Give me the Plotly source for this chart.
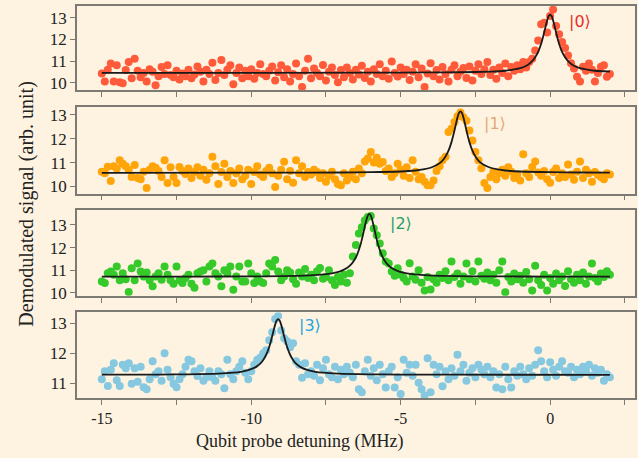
import numpy as np
import plotly.graph_objects as go
from plotly.subplots import make_subplots

# Qubit probe detuning grid (MHz)
detuning = np.round(np.arange(-15.0, 2.0001, 0.1), 1)

# Demodulated signal, state |0>
sig0 = [
    10.42, 10.05, 10.60, 10.88, 10.05, 10.80, 10.02, 9.97, 10.58, 10.95,
    10.20, 11.10, 10.55, 10.25, 10.45, 10.05, 10.62, 10.50, 9.88, 10.30,
    10.72, 10.40, 10.80, 10.35, 10.25, 10.55, 10.15, 10.42, 10.30, 10.60,
    10.20, 10.38, 10.75, 10.50, 10.05, 10.60, 10.40, 10.92, 10.12, 10.45,
    11.05, 10.35, 10.60, 10.80, 9.92, 10.45, 10.70, 10.20, 10.55, 10.30,
    10.62, 10.18, 10.45, 10.85, 10.40, 10.30, 10.55, 10.75, 10.10, 10.48,
    10.80, 10.25, 10.62, 10.05, 10.40, 10.88, 10.30, 9.80, 10.55, 11.10,
    10.20, 10.65, 10.45, 10.30, 10.82, 10.10, 10.50, 10.70, 10.35, 10.02,
    10.58, 10.25, 10.70, 10.45, 10.15, 10.60, 10.38, 10.78, 10.22, 10.50,
    10.05, 10.62, 10.40, 10.85, 10.30, 10.55, 10.18, 10.98, 10.45, 10.28,
    10.70, 10.40, 10.60, 10.12, 10.50, 10.85, 10.25, 10.65, 9.80, 10.42,
    10.90, 10.30, 10.58, 10.15, 10.72, 10.40, 10.05, 10.60, 10.80, 10.30,
    10.50, 10.68, 10.22, 10.75, 10.10, 10.55, 10.85, 10.40, 10.62, 10.95,
    10.35, 10.60, 10.18, 10.70, 10.45, 10.88, 10.30, 10.72, 10.55, 10.80,
    10.62, 10.95, 10.70, 10.95, 11.10, 11.49, 11.95, 12.70, 12.77, 12.32,
    13.08, 13.38, 12.62, 12.24, 11.88, 11.60, 11.26, 10.90, 10.65, 10.27,
    10.05, 10.73, 10.55, 10.88, 10.60, 10.05, 10.45, 10.73, 10.80, 10.27,
    10.40,
]

# Demodulated signal, state |1>
sig1 = [
    10.62, 10.55, 10.83, 10.23, 10.85, 10.75, 11.10, 10.95, 10.85, 10.70,
    10.40, 10.90, 10.35, 10.30, 10.62, 9.93, 10.70, 10.85, 10.78, 10.65,
    10.40, 11.10, 10.14, 10.80, 10.40, 10.14, 10.82, 10.65, 10.52, 10.75,
    10.35, 10.60, 10.80, 10.45, 10.70, 10.28, 10.55, 11.25, 10.85, 10.10,
    10.60, 10.95, 10.40, 10.65, 10.14, 10.55, 10.75, 10.30, 10.45, 10.70,
    10.10, 10.60, 10.85, 10.50, 10.40, 10.65, 10.78, 10.55, 9.98, 10.45,
    10.70, 11.04, 10.30, 10.65, 10.15, 11.10, 10.55, 10.85, 10.40, 10.60,
    10.50, 10.70, 10.60, 10.35, 10.55, 10.20, 10.45, 10.62, 10.30, 10.10,
    10.05, 10.55, 10.25, 10.40, 10.62, 10.30, 10.75, 10.55, 11.05, 11.17,
    11.45, 11.00, 11.20, 10.95, 11.02, 10.65, 10.75, 10.40, 10.55, 10.95,
    10.70, 10.45, 10.80, 10.35, 11.10, 10.62, 10.30, 10.40, 10.20, 10.05,
    10.05, 10.25, 10.65, 10.85, 11.10, 11.25, 12.28, 12.42, 12.70, 12.95,
    13.10, 12.90, 12.76, 12.35, 11.93, 11.45, 11.10, 10.76, 10.14, 9.93,
    10.40, 10.60, 10.30, 10.55, 10.70, 10.45, 10.80, 10.62, 10.35, 10.50,
    10.25, 11.35, 10.55, 10.40, 10.82, 11.05, 10.58, 10.45, 10.65, 10.30,
    10.15, 10.60, 10.75, 10.35, 10.55, 10.40, 10.92, 10.50, 10.28, 10.62,
    11.05, 10.35, 10.70, 10.55, 10.20, 10.60, 10.48, 10.40, 10.30, 10.55,
    10.50,
]

# Demodulated signal, state |2>
sig2 = [
    10.50, 10.43, 10.87, 10.94, 10.80, 11.16, 10.55, 10.87, 10.60, 10.04,
    11.09, 10.55, 11.30, 10.94, 10.72, 10.90, 10.55, 10.29, 10.72, 10.87,
    10.58, 11.16, 10.80, 10.55, 10.40, 11.16, 10.55, 10.43, 10.65, 10.80,
    10.40, 10.22, 10.87, 10.94, 11.00, 10.50, 11.16, 11.30, 10.87, 10.72,
    10.29, 11.00, 10.87, 11.16, 10.14, 10.72, 11.16, 10.50, 10.50, 11.30,
    10.87, 10.43, 10.72, 10.50, 10.43, 10.87, 11.30, 11.16, 11.45, 10.94,
    10.55, 10.72, 11.00, 10.90, 10.60, 10.40, 10.90, 10.72, 11.05, 10.65,
    10.80, 10.55, 10.95, 11.10, 10.62, 10.70, 11.00, 10.55, 10.35, 10.70,
    10.50, 10.80, 10.45, 10.87, 11.60, 12.11, 12.62, 12.90, 13.20, 13.35,
    13.40, 12.84, 12.55, 12.18, 11.75, 11.38, 11.30, 10.94, 10.75, 11.09,
    10.80, 10.65, 10.50, 11.31, 10.72, 10.58, 11.00, 10.45, 10.10, 10.70,
    10.15, 10.60, 10.45, 10.80, 10.65, 10.95, 10.55, 11.38, 10.70, 10.85,
    10.40, 10.72, 11.30, 10.60, 10.95, 10.50, 11.38, 10.75, 10.62, 10.90,
    10.55, 10.80, 10.45, 11.00, 11.38, 10.03, 10.70, 10.50, 10.85, 10.60,
    10.75, 10.45, 10.92, 10.60, 10.10, 11.20, 10.55, 10.35, 10.80, 10.10,
    10.65, 10.40, 10.85, 10.55, 10.72, 10.30, 10.95, 10.60, 10.45, 10.80,
    10.55, 10.90, 10.40, 10.72, 11.30, 10.65, 10.50, 10.85, 10.70, 10.95,
    10.80,
]

# Demodulated signal, state |3>
sig3 = [
    11.13, 11.40, 10.91, 11.45, 11.67, 11.10, 10.91, 11.62, 11.50, 11.67,
    10.98, 11.50, 11.05, 11.55, 10.87, 10.80, 11.13, 11.73, 11.30, 11.40,
    11.08, 12.00, 11.45, 11.20, 10.98, 10.87, 11.13, 11.30, 11.55, 11.78,
    11.73, 11.40, 11.24, 11.50, 11.08, 11.20, 11.40, 11.20, 11.08, 11.40,
    11.30, 10.83, 11.78, 11.30, 11.13, 11.40, 11.55, 11.73, 11.35, 11.13,
    11.40, 11.62, 11.78, 11.85, 12.00, 12.10, 12.43, 12.70, 13.14, 13.25,
    12.76, 12.50, 12.40, 12.20, 12.33, 11.73, 11.62, 11.18, 11.67, 11.30,
    11.40, 11.25, 11.62, 11.10, 11.50, 11.78, 11.30, 11.20, 11.55, 11.13,
    11.45, 11.30, 11.55, 11.35, 11.20, 11.62, 10.80, 10.70, 11.40, 11.78,
    11.25, 11.50, 11.10, 11.62, 11.30, 10.86, 11.40, 11.55, 10.86, 11.20,
    10.64, 11.78, 11.35, 11.62, 11.25, 11.62, 11.02, 10.80, 10.59, 11.83,
    10.70, 11.62, 11.30, 11.55, 10.90, 11.40, 11.13, 11.50, 11.25, 11.95,
    11.40, 11.62, 11.08, 11.35, 11.50, 11.20, 11.62, 11.45, 11.30, 11.55,
    11.20, 11.40, 10.86, 11.30, 10.80, 11.55, 11.13, 10.86, 11.40, 11.25,
    11.55, 11.30, 11.13, 11.50, 11.25, 11.62, 12.10, 11.73, 11.40, 11.20,
    11.70, 11.45, 11.25, 11.55, 11.73, 11.40, 11.35, 11.55, 11.20, 11.45,
    11.30, 11.55, 11.40, 11.62, 11.25, 11.50, 11.35, 11.45, 11.08, 11.30,
    11.20,
]

fit0_x = [-15, -6, -4, -3, -2, -1.5, -1.25, -1, -0.75, -0.6, -0.5, -0.4, -0.3, -0.25, -0.2, -0.15, -0.1, -0.05,
          0, 0.05, 0.1, 0.15, 0.2, 0.25, 0.3, 0.4, 0.5, 0.6, 0.75, 1, 1.25, 1.5, 2]
fit0_y = [10.45, 10.46, 10.47, 10.48, 10.51, 10.55, 10.60, 10.67, 10.82, 10.99, 11.17, 11.42, 11.80, 12.04, 12.32, 12.61, 12.88, 13.08,
          13.15, 13.08, 12.88, 12.61, 12.32, 12.04, 11.80, 11.42, 11.17, 10.99, 10.82, 10.67, 10.60, 10.55, 10.51]

fit1_x = [-15, -9, -7, -6, -5, -4.5, -4.25, -4, -3.75, -3.6, -3.5, -3.4, -3.3, -3.25, -3.2, -3.15, -3.1, -3.05,
          -3.0, -2.95, -2.9, -2.85, -2.8, -2.75, -2.7, -2.6, -2.5, -2.4, -2.25, -2, -1.75, -1.5, -1, 0, 1, 2]
fit1_y = [10.57, 10.576, 10.584, 10.596, 10.627, 10.669, 10.711, 10.783, 10.926, 11.086, 11.254, 11.499, 11.86, 12.092, 12.355, 12.634, 12.892, 13.08,
          13.15, 13.08, 12.892, 12.634, 12.355, 12.092, 11.86, 11.499, 11.254, 11.086, 10.926, 10.783, 10.711, 10.669, 10.627, 10.596, 10.584, 10.579]

fit2_x = [-15, -12.05, -10.05, -9.05, -8.05, -7.55, -7.3, -7.05, -6.8, -6.65, -6.55, -6.45, -6.35, -6.3, -6.25, -6.2, -6.15, -6.1,
          -6.05, -6.0, -5.95, -5.9, -5.85, -5.8, -5.75, -5.65, -5.55, -5.45, -5.3, -5.05, -4.8, -4.55, -4.05, -3.05, -2.05, 0, 2]
fit2_y = [10.713, 10.717, 10.726, 10.738, 10.771, 10.817, 10.862, 10.94, 11.094, 11.266, 11.447, 11.711, 12.10, 12.35, 12.634, 12.934, 13.212, 13.415,
          13.49, 13.415, 13.212, 12.934, 12.634, 12.35, 12.10, 11.711, 11.447, 11.266, 11.094, 10.94, 10.862, 10.817, 10.771, 10.738, 10.726, 10.717, 10.714]

fit3_x = [-15, -13.1, -12.1, -11.1, -10.6, -10.35, -10.1, -9.85, -9.7, -9.6, -9.5, -9.4, -9.35, -9.3, -9.25, -9.2, -9.15,
          -9.1, -9.05, -9.0, -8.95, -8.9, -8.85, -8.8, -8.7, -8.6, -8.5, -8.35, -8.1, -7.85, -7.6, -7.1, -6.1, -5.1, -3.1, 2]
fit3_y = [11.285, 11.29, 11.298, 11.321, 11.352, 11.381, 11.434, 11.537, 11.652, 11.773, 11.95, 12.21, 12.377, 12.567, 12.768, 12.954, 13.09,
          13.14, 13.09, 12.954, 12.768, 12.567, 12.377, 12.21, 11.95, 11.773, 11.652, 11.537, 11.434, 11.381, 11.352, 11.321, 11.298, 11.29, 11.285, 11.28]

signals = [sig0, sig1, sig2, sig3]
fits = [(fit0_x, fit0_y), (fit1_x, fit1_y), (fit2_x, fit2_y), (fit3_x, fit3_y)]
for s in signals:
    assert len(s) == len(detuning), len(s)
for fx, fy in fits:
    assert len(fx) == len(fy), (len(fx), len(fy))

state_labels = ["|0⟩", "|1⟩", "|2⟩", "|3⟩"]
label_pos = [(0.55, 12.85), (-2.27, 12.63), (-5.42, 13.05), (-8.47, 12.93)]
marker_colors = ["#ff5a3a", "#ffa50a", "#35c92a", "#86c8e0"]
label_colors = ["#e5302a", "#e3a878", "#1f9e68", "#2aa2d8"]
y_ranges = [[9.64, 13.55], [9.7, 13.33], [9.87, 13.65], [10.51, 13.36]]
y_ticks = [[10, 11, 12, 13], [10, 11, 12, 13], [10, 11, 12, 13], [11, 12, 13]]
x_ticks = [-15, -12.5, -10, -7.5, -5, -2.5, 0, 2.5]
x_ticktext = ["-15", "", "-10", "", "-5", "", "0", ""]

y_domains = [[0.8013, 0.9891], [0.5721, 0.7642], [0.345, 0.535], [0.1179, 0.3079]]
x_domain = [0.1207, 0.9953]

BG = "#fdf3e0"
FRAME = "#7d7a74"
SERIF = "Liberation Serif, Times New Roman, serif"

fig = make_subplots(rows=4, cols=1)

for i in range(4):
    r = i + 1
    fig.add_trace(go.Scatter(x=detuning, y=signals[i], mode="markers",
                             marker=dict(color=marker_colors[i], size=8, line=dict(width=0)),
                             showlegend=False), row=r, col=1)
    fig.add_trace(go.Scatter(x=fits[i][0], y=fits[i][1], mode="lines",
                             line=dict(color="#1a1a1a", width=1.8, shape="spline", smoothing=0.6),
                             showlegend=False), row=r, col=1)
    xa = "xaxis" if r == 1 else f"xaxis{r}"
    ya = "yaxis" if r == 1 else f"yaxis{r}"
    fig.layout[xa].update(domain=x_domain, range=[-15.83, 2.84], showgrid=False, zeroline=False,
                          showline=True, mirror=True, linecolor=FRAME, linewidth=1.5,
                          ticks="outside", ticklen=5, tickwidth=1, tickcolor=FRAME,
                          tickvals=x_ticks, ticktext=x_ticktext,
                          showticklabels=(r == 4),
                          tickfont=dict(family=SERIF, size=16, color="#222"))
    fig.layout[ya].update(domain=y_domains[i], range=y_ranges[i], showgrid=False, zeroline=False,
                          showline=True, mirror=True, linecolor=FRAME, linewidth=1.5,
                          ticks="outside", ticklen=5, tickwidth=1, tickcolor=FRAME,
                          tickvals=y_ticks[i], ticktext=[str(v) for v in y_ticks[i]],
                          tickfont=dict(family=SERIF, size=17, color="#222"))
    xref = "x" if r == 1 else f"x{r}"
    yref = "y" if r == 1 else f"y{r}"
    fig.add_annotation(x=label_pos[i][0], y=label_pos[i][1], xref=xref, yref=yref,
                       text=state_labels[i], showarrow=False, xanchor="left", yanchor="middle",
                       font=dict(family="DejaVu Sans", size=16, color=label_colors[i]))

fig.add_annotation(x=0.4702, y=0.022, xref="paper", yref="paper", text="Qubit probe detuning (MHz)",
                   showarrow=False, xanchor="center", yanchor="middle",
                   font=dict(family=SERIF, size=18, color="#222"))
fig.add_annotation(x=0.041, y=0.55, xref="paper", yref="paper", text="Demodulated signal (arb. unit)",
                   showarrow=False, xanchor="center", yanchor="middle", textangle=-90,
                   font=dict(family=SERIF, size=20, color="#222"))

fig.update_layout(width=638, height=458, margin=dict(l=0, r=0, t=0, b=0),
                  font=dict(family=SERIF, color="#222"),
                  paper_bgcolor=BG, plot_bgcolor=BG, showlegend=False)

fig.write_html("out.html")
